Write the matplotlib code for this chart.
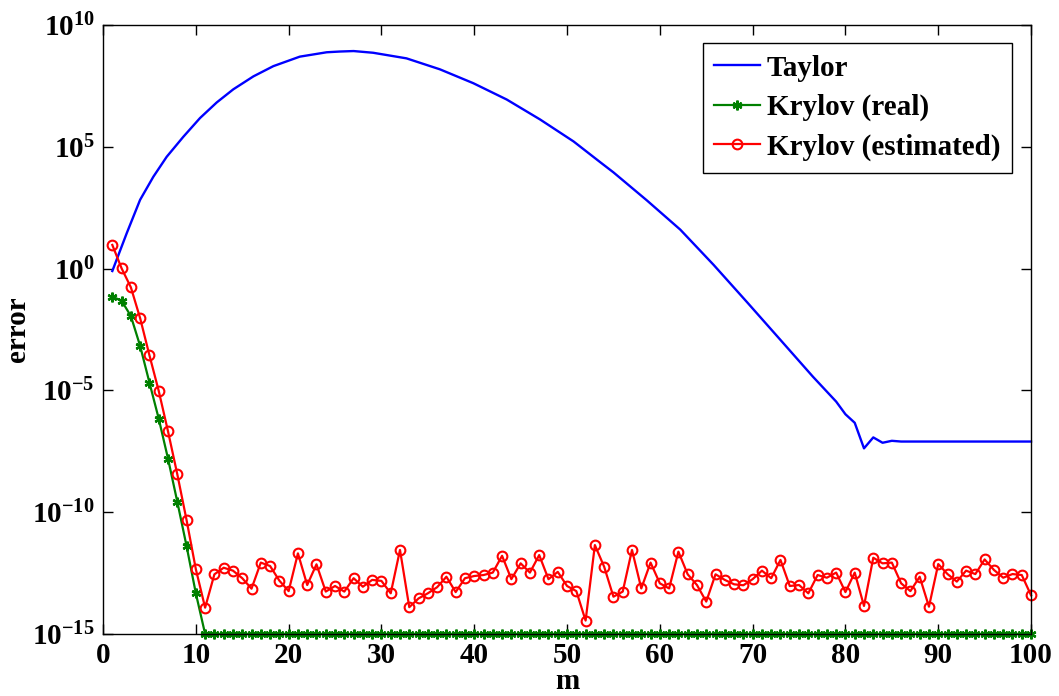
import matplotlib
matplotlib.use("Agg")
import matplotlib.pyplot as plt
from matplotlib.ticker import FuncFormatter, FixedLocator
import numpy as np

# fonts: bold Times-like look of a MATLAB export
plt.rcParams["font.family"] = ["Liberation Serif", "DejaVu Serif"]
plt.rcParams["font.weight"] = "bold"
plt.rcParams["mathtext.fontset"] = "custom"
plt.rcParams["mathtext.rm"] = "Liberation Serif:bold"
plt.rcParams["mathtext.bf"] = "Liberation Serif:bold"
plt.rcParams["mathtext.it"] = "Liberation Serif:bold:italic"
plt.rcParams["mathtext.default"] = "rm"

# Taylor error (log10)
taylor_m = [1.0, 2.55, 3.99, 5.42, 6.86, 8.65, 10.45, 12.25, 14.04, 16.2, 18.35,
            21.2, 24.1, 25.5, 27.0, 29.1, 32.7, 36.3, 39.9, 43.5, 47.1, 50.7,
            53.6, 55.0, 58.6, 62.2, 65.8, 69.4, 73.0, 76.5, 79, 80, 81, 82, 83,
            84, 85, 86, 90, 95, 100]
taylor_log = [-0.10, 1.45, 2.82, 3.77, 4.59, 5.41, 6.18, 6.82, 7.36, 7.89, 8.31,
              8.70, 8.88, 8.91, 8.93, 8.86, 8.63, 8.18, 7.61, 6.94, 6.12, 5.22,
              4.36, 3.95, 2.80, 1.60, 0.15, -1.38, -2.93, -4.44, -5.46, -5.98,
              -6.33, -7.38, -6.93, -7.15, -7.07, -7.10, -7.10, -7.10, -7.10]

# Krylov real error (log10), m = 1..100
krylov_m = list(range(1, 101))
real_log = [-1.15, -1.32, -1.95, -3.18, -4.68, -6.16, -7.80, -9.57, -11.39,
            -13.33] + [-15.0] * 90

# Krylov estimated error (log10), m = 1..100
est_log = [0.97, 0.01, -0.77, -2.04, -3.56, -5.02, -6.68, -8.44, -10.32, -12.34,
           -13.92, -12.55, -12.28, -12.40, -12.71, -13.14, -12.07, -12.21, -12.81, -13.24,
           -11.69, -12.99, -12.14, -13.26, -13.03, -13.26, -12.71, -13.06, -12.78, -12.82,
           -13.33, -11.55, -13.90, -13.54, -13.33, -13.08, -12.65, -13.28, -12.71, -12.62,
           -12.58, -12.48, -11.79, -12.75, -12.10, -12.48, -11.76, -12.75, -12.45, -13.03,
           -13.24, -14.45, -11.35, -12.24, -13.47, -13.26, -11.55, -13.13, -12.07, -12.92,
           -13.13, -11.62, -12.55, -12.99, -13.67, -12.55, -12.78, -12.96, -13.00, -12.75,
           -12.40, -12.71, -11.96, -13.03, -12.99, -13.33, -12.58, -12.69, -12.48, -13.28,
           -12.48, -13.85, -11.87, -12.10, -12.07, -12.92, -13.24, -12.65, -13.88, -12.13,
           -12.54, -12.85, -12.40, -12.54, -11.94, -12.37, -12.69, -12.54, -12.58, -13.41]

fig = plt.figure(figsize=(10.59, 6.96), dpi=100)
ax = fig.add_axes([0.0973, 0.0891, 0.8763, 0.8750])

ax.semilogy(taylor_m, 10.0 ** np.array(taylor_log), color="#0000FF", lw=1.7,
            label="Taylor", clip_on=False)
ax.semilogy(krylov_m, 10.0 ** np.array(real_log), color="#008000", lw=1.6,
            marker=(6, 2, 0), ms=7, mew=1.7, label="Krylov (real)", clip_on=False)
ax.semilogy(krylov_m, 10.0 ** np.array(est_log), color="#FF0000", lw=1.6,
            marker="o", ms=7, mfc="none", mew=1.5, label="Krylov (estimated)",
            clip_on=False)

ax.set_xlim(0, 100)
ax.set_ylim(1e-15, 1e10)
ax.set_xticks(range(0, 101, 10))
ax.yaxis.set_major_locator(FixedLocator([1e-15, 1e-10, 1e-5, 1e0, 1e5, 1e10]))
ax.yaxis.set_minor_locator(FixedLocator([]))
ax.yaxis.set_major_formatter(
    FuncFormatter(lambda v, p: r"$10^{%d}$" % int(round(np.log10(v)))))

ax.tick_params(direction="in", length=7, width=1, top=True, right=True,
               labelsize=21, pad=6)
for s in ax.spines.values():
    s.set_linewidth(1.0)

ax.set_xlabel("m", fontsize=21, fontweight="bold", labelpad=-1)
ax.set_ylabel("error", fontsize=21, fontweight="bold", labelpad=1)

leg = ax.legend(loc="upper right", bbox_to_anchor=(0.9795, 0.9704),
                borderaxespad=0, fancybox=False, edgecolor="black",
                fontsize=21, handlelength=1.55, handletextpad=0.25,
                borderpad=0.4, labelspacing=0.42, framealpha=1)
leg.get_frame().set_linewidth(1.0)

plt.savefig("out.png", dpi=100)
